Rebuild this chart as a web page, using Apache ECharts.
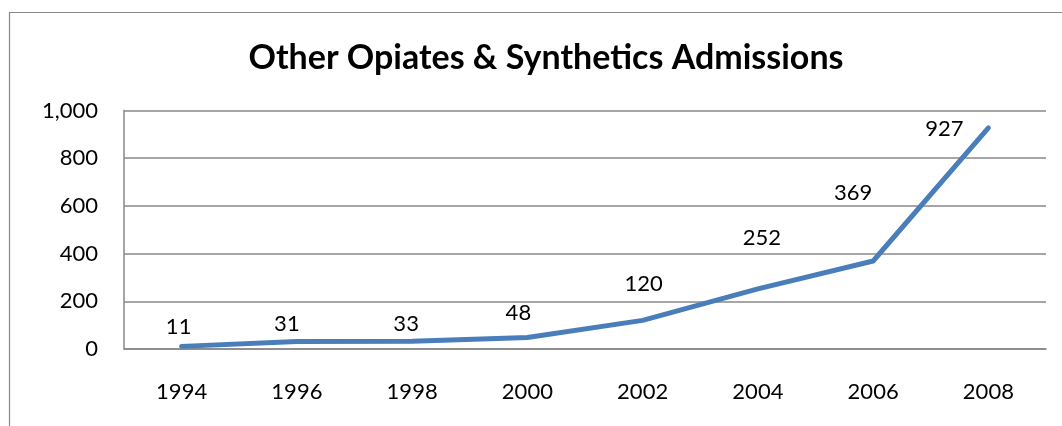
<!DOCTYPE html>
<html>
<head>
<meta charset="utf-8">
<script src="https://cdn.jsdelivr.net/npm/echarts@6/dist/echarts.min.js"></script>
<style>
html,body{margin:0;padding:0;background:#fff;}
#chart{width:1062px;height:426px;}
</style>
</head>
<body>
<div id="chart"></div>
<script>
const years = ['1994','1996','1998','2000','2002','2004','2006','2008'];
const admissions = [11, 31, 33, 48, 120, 252, 369, 927];
const yTicks = [0, 200, 400, 600, 800, 1000];
const labelOffsets = [[-3,-19],[-10,-18],[-6,-17],[-9,-25],[1,-36],[4,-51],[-20,-68],[-44,1]];

const chart = echarts.init(document.getElementById('chart'), null, {renderer:'canvas'});
const FONT = 'Lato';
chart.setOption({
  animation: false,
  backgroundColor: '#fff',
  graphic: [{
    type: 'rect',
    shape: {x: 9.5, y: 12.5, width: 1100, height: 500},
    style: {fill: 'none', stroke: '#888', lineWidth: 1.2},
    silent: true, z: -1
  }],
  title: {
    text: 'Other Opiates & Synthetics Admissions',
    left: 541, top: 36, textAlign: 'center',
    textStyle: {fontFamily: FONT, fontWeight: 'bold', fontSize: 34, color: '#000'}
  },
  grid: {left: 124, top: 110.5, right: 16, bottom: 77, containLabel: false},
  xAxis: {
    type: 'category', data: years, boundaryGap: true,
    axisLine: {show: true, lineStyle: {color: '#888', width: 1.5}},
    axisTick: {show: false},
    axisLabel: {fontFamily: FONT, fontSize: 22, color: '#000', margin: 32}
  },
  yAxis: {
    type: 'value', min: yTicks[0], max: yTicks[yTicks.length-1], interval: 200,
    axisLine: {show: true, lineStyle: {color: '#888', width: 1.5}},
    axisTick: {show: false},
    splitLine: {show: true, lineStyle: {color: '#888', width: 1.5}},
    axisLabel: {fontFamily: FONT, fontSize: 22, color: '#000', margin: 26,
      formatter: v => v.toLocaleString('en-US')}
  },
  series: [{
    type: 'line',
    data: admissions.map((v, i) => ({
      value: v,
      label: {offset: labelOffsets[i]}
    })),
    symbol: 'circle', symbolSize: 1, showSymbol: true,
    itemStyle: {color: '#4a7ebb'},
    lineStyle: {color: '#4a7ebb', width: 5, cap: 'round', join: 'round'},
    label: {show: true, position: 'inside', fontFamily: FONT, fontSize: 22, color: '#000'}
  }]
});
</script>
</body>
</html>
